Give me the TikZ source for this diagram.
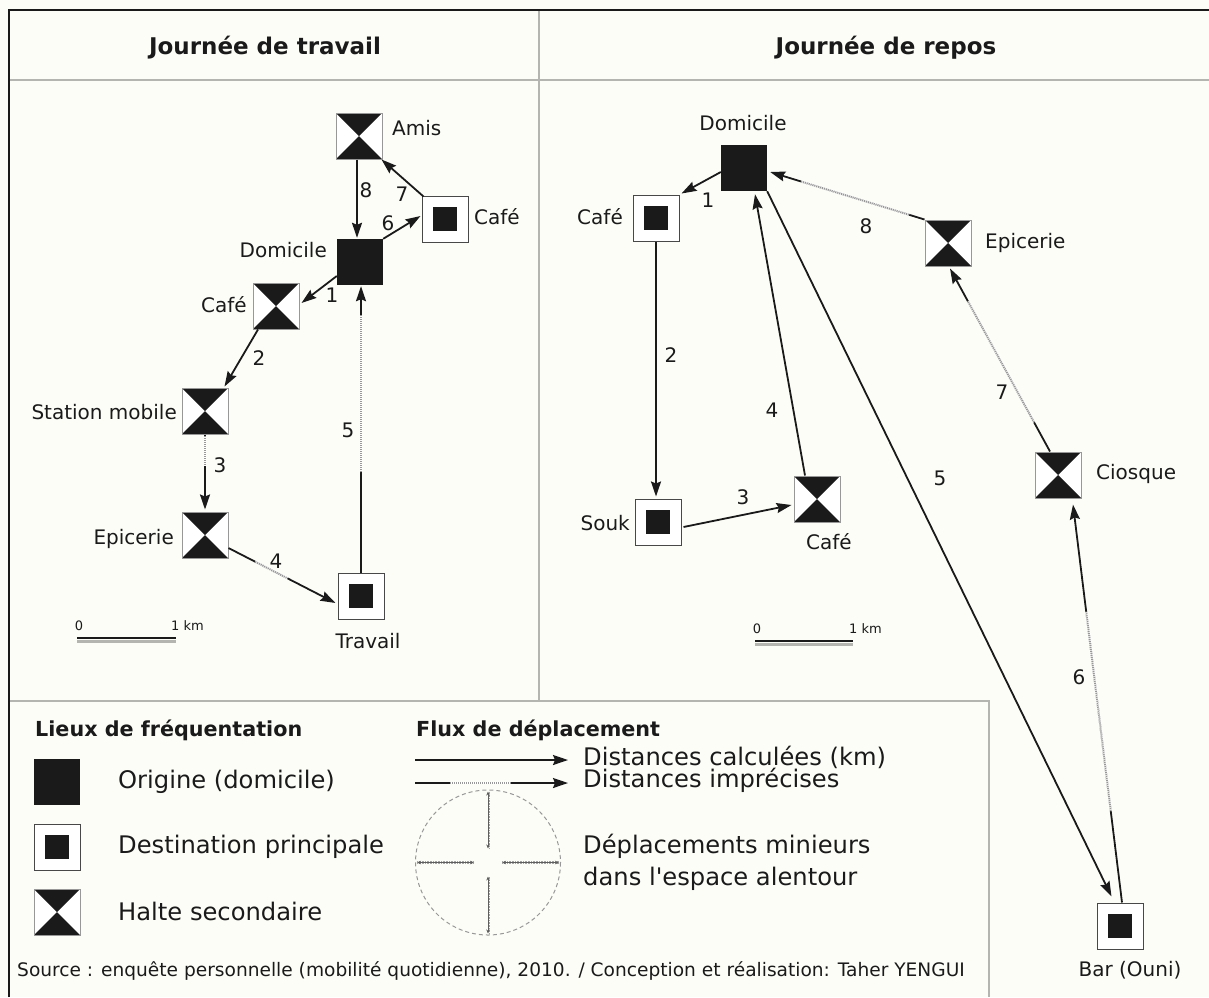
\documentclass[tikz,border=0pt]{standalone}
\usepackage{fontspec}
\setmainfont{DejaVu Sans}
\usetikzlibrary{arrows.meta,calc}
\definecolor{paper}{HTML}{FDFDF8}
\definecolor{ink}{HTML}{1A1A1A}
\definecolor{frame}{HTML}{B4B4B0}
\tikzset{
  orig/.style={rectangle, fill=ink, minimum size=46pt, inner sep=0pt},
  dest/.style={rectangle, draw=ink!80, line width=1pt, fill=white, minimum size=46pt, inner sep=0pt,
    path picture={\fill[ink] ($(path picture bounding box.center)+(-12,-12)$) rectangle ($(path picture bounding box.center)+(12,12)$);}},
  halte/.style={rectangle, draw=ink!45, line width=1pt, fill=white, minimum size=46pt, inner sep=0pt,
    path picture={\fill[ink] (path picture bounding box.north west) -- (path picture bounding box.north east) -- (path picture bounding box.center) -- cycle;
                  \fill[ink] (path picture bounding box.south west) -- (path picture bounding box.south east) -- (path picture bounding box.center) -- cycle;}},
  flow/.style={line width=1.8pt, draw=ink, -{Stealth[length=15pt,width=10pt,inset=2pt]}},
  hide/.style={line width=2.6pt, draw=white},
  impr/.style={line width=1.8pt, draw=ink!45, dash pattern=on 1.2pt off 0.8pt},
  lbl/.style={font=\fontsize{20}{22}\selectfont, text=ink, inner sep=0pt},
  num/.style={font=\fontsize{20}{22}\selectfont, text=ink, inner sep=0pt},
  ttl/.style={font=\bfseries\fontsize{23}{26}\selectfont, text=ink, inner sep=0pt},
  lgh/.style={font=\bfseries\fontsize{20.7}{24}\selectfont, text=ink, inner sep=0pt},
  lgt/.style={font=\fontsize{24.2}{27}\selectfont, text=ink, inner sep=0pt},
  src/.style={font=\fontsize{18.6}{21}\selectfont, text=ink, inner sep=0pt},
  sc/.style={font=\fontsize{13}{15}\selectfont, text=ink, inner sep=0pt},
  minorline/.style={line width=0.7pt, draw=ink!40, dash pattern=on 0.8pt off 0.8pt, double=paper, double distance=1.6pt},
  minortip/.style={draw=ink!70, line width=0.6pt, -{Stealth[length=4pt,width=3.5pt]}},
  sepline/.style={draw=frame, line width=1.5pt}
}
\newcommand\minorflow[2]{%
  \draw[minorline] (#1) -- (#2);
  \draw[minortip] ($(#1)!0.12!(#2)$) -- (#2);
  \draw[minortip] ($(#1)!0.88!(#2)$) -- (#1);
}
\begin{document}
\begin{tikzpicture}[x=1pt,y=-1pt]
\useasboundingbox (0,0) rectangle (1209,997);
\fill[paper] (0,0) rectangle (1209,997);
% frame
\draw[sepline] (9,80) -- (1209,80);
\draw[sepline] (539,10) -- (539,701);
\draw[sepline] (9,701) -- (989,701) -- (989,997);
\draw[ink, line width=1.3pt] (9,997) -- (9,10) -- (1209,10);
% titles
\node[ttl] (t1) at (265,48) {Journée de travail};
\node[ttl] (t2) at (886,48) {Journée de repos};

% ===== left panel =====
\node[orig]  (Ld) at (360,262) {};
\node[halte] (La) at (359,136) {};
\node[dest]  (Lc) at (445,219) {};
\node[halte] (Lh) at (276,306) {};
\node[halte] (Ls) at (205,411) {};
\node[halte] (Le) at (205,535) {};
\node[dest]  (Lt) at (361,596) {};
\node[lbl, anchor=east] (Ldl) at (327,250) {Domicile};
\node[lbl, anchor=west] (Lal) at (392,128) {Amis};
\node[lbl, anchor=west] (Lcl) at (474,217) {Café};
\node[lbl, anchor=east] (Lhl) at (247,305) {Café};
\node[lbl, anchor=east] (Lsl) at (177,412) {Station mobile};
\node[lbl, anchor=east] (Lel) at (174,539) {Epicerie};
\node[lbl] (Ltl) at (368,641) {Travail};

% edges left
\draw[flow] ($(Ld.west)+(0,14)$) -- ($(Lh.east)+(2,-3)$);
\draw[flow] ($(Lh.south)+(-18,0)$) -- ($(Ls.north east)+(-4,-1)$);
\draw[flow] (Ls.south) -- ($(Le.north)+(0,-2)$) coordinate[pos=0.02] (g3a) coordinate[pos=0.42] (g3b);
\draw[hide] (g3a) -- (g3b); \draw[impr] (g3a) -- (g3b);
\draw[flow] ($(Le.east)+(0,13)$) -- ($(Lt.west)+(-2,7)$) coordinate[pos=0.25] (g4a) coordinate[pos=0.55] (g4b);
\draw[hide] (g4a) -- (g4b); \draw[impr] (g4a) -- (g4b);
\draw[flow] (Lt.north) -- ($(Lt.north |- Ld.south)+(0,1)$) coordinate[pos=0.35] (g5a) coordinate[pos=0.9] (g5b);
\draw[hide] (g5a) -- (g5b); \draw[impr] (g5a) -- (g5b);
\draw[flow] (Ld.north east) -- ($(Lc.west)+(-1,-3)$);
\draw[flow] ($(Lc.north west)+(2,1)$) -- ($(La.south east)+(-1,0)$);
\draw[flow] ($(La.south)+(-2,0)$) -- ($(La.south |- Ld.north)+(-2,-1)$);
\node[num] (n1) at (332,295) {1};
\node[num] (n2) at (259,358) {2};
\node[num] (n3) at (220,465) {3};
\node[num] (n4) at (276,561) {4};
\node[num] (n5) at (348,430) {5};
\node[num] (n6) at (388,223) {6};
\node[num] (n7) at (402,194) {7};
\node[num] (n8) at (366,190) {8};
% scale left
\coordinate (sl0) at (77,638);
\coordinate (sl1) at (176,638);
\draw[ink, line width=2.6pt] (sl0) -- (sl1);
\draw[frame, line width=2.6pt] ($(sl0)+(0,3.5)$) -- ($(sl1)+(0,3.5)$);
\node[sc] (sl0t) at (79,626) {0};
\node[sc, anchor=west] (sl1t) at (171,626) {1 km};

% ===== right panel =====
\node[orig]  (Rd) at (744,168) {};
\node[dest]  (Rc) at (656,218) {};
\node[halte] (Re) at (948,243) {};
\node[halte] (Rk) at (1058,475) {};
\node[dest]  (Rb) at (1120,926) {};
\node[dest]  (Rs) at (658,522) {};
\node[halte] (Rh) at (817,499) {};
\node[lbl] (Rdl) at (743,123) {Domicile};
\node[lbl, anchor=east] (Rcl) at (623,217) {Café};
\node[lbl, anchor=west] (Rel) at (985,243) {Epicerie};
\node[lbl, anchor=west] (Rkl) at (1096,474) {Ciosque};
\node[lbl] (Rbl) at (1130,970) {Bar (Ouni)};
\node[lbl, anchor=east] (Rsl) at (630,523) {Souk};
\node[lbl] (Rhl) at (829,542) {Café};

% edges right
\draw[flow] ($(Rd.west)+(0,4)$) -- ($(Rc.north east)+(2,-1)$);
\draw[flow] (Rc.south) -- ($(Rc.south |- Rs.north)+(0,-2)$);
\draw[flow] ($(Rs.east)+(2,5)$) -- ($(Rh.west)+(-2,6)$);
\draw[flow] ($(Rh.north)+(-12,0)$) -- ($(Rd.south)+(11,3)$);
\draw[flow] (Rd.south east) -- ($(Rb.north west)+(15,-6)$);
\draw[flow] ($(Rb.north)+(2,0)$) -- ($(Rk.south)+(15,6)$) coordinate[pos=0.23] (r6a) coordinate[pos=0.73] (r6b);
\draw[hide] (r6a) -- (r6b); \draw[impr] (r6a) -- (r6b);
\draw[flow] ($(Rk.north)+(-8,0)$) -- ($(Re.south)+(2,2)$) coordinate[pos=0.16] (r7a) coordinate[pos=0.82] (r7b);
\draw[hide] (r7a) -- (r7b); \draw[impr] (r7a) -- (r7b);
\draw[flow] (Re.north west) -- ($(Rd.east)+(3,4)$) coordinate[pos=0.1] (r8a) coordinate[pos=0.8] (r8b);
\draw[hide] (r8a) -- (r8b); \draw[impr] (r8a) -- (r8b);
\node[num] (m1) at (708,200) {1};
\node[num] (m2) at (671,355) {2};
\node[num] (m3) at (743,497) {3};
\node[num] (m4) at (772,410) {4};
\node[num] (m5) at (940,478) {5};
\node[num] (m6) at (1079,677) {6};
\node[num] (m7) at (1002,392) {7};
\node[num] (m8) at (866,226) {8};
% scale right
\coordinate (sr0) at (755,641);
\coordinate (sr1) at (853,641);
\draw[ink, line width=2.6pt] (sr0) -- (sr1);
\draw[frame, line width=2.6pt] ($(sr0)+(0,3.5)$) -- ($(sr1)+(0,3.5)$);
\node[sc] (sr0t) at (757,629) {0};
\node[sc, anchor=west] (sr1t) at (849,629) {1 km};

% ===== legend =====
\node[lgh, anchor=west] (lh1) at (35,730) {Lieux de fréquentation};
\node[orig]  (lo) at (57,782) {};
\node[dest]  (ld) at (57,847) {};
\node[halte] (lha) at (57,912) {};
\node[lgt, anchor=west] (lot) at (118,782) {Origine (domicile)};
\node[lgt, anchor=west] (ldt) at (118,847) {Destination principale};
\node[lgt, anchor=west] (lhat) at (118,911) {Halte secondaire};

\node[lgh, anchor=west] (lh2) at (416,730) {Flux de déplacement};
\coordinate (a1s) at (415,760);
\coordinate (a1e) at (568,760);
\coordinate (a2s) at (415,783);
\coordinate (a2e) at (568,783);
\draw[flow] (a1s) -- (a1e);
\draw[flow] (a2s) -- (a2e);
\coordinate (a2g1) at (450,783);
\coordinate (a2g2) at (511,783);
\draw[hide] (a2g1) -- (a2g2); \draw[impr] (a2g1) -- (a2g2);
\node[lgt, anchor=west] (lf1) at (583,757) {Distances calculées (km)};
\node[lgt, anchor=west] (lf2) at (583,780) {Distances imprécises};
\coordinate (cc) at (488,862.5);
\draw[ink!45, line width=1pt, dash pattern=on 4pt off 3pt] (cc) circle (72.5);
\coordinate (mt1) at ($(cc)+(0,-71)$);  \coordinate (mt2) at ($(cc)+(0,-14)$);
\coordinate (mb1) at ($(cc)+(0,71)$);   \coordinate (mb2) at ($(cc)+(0,14)$);
\coordinate (ml1) at ($(cc)+(-71,0)$);  \coordinate (ml2) at ($(cc)+(-14,0)$);
\coordinate (mr1) at ($(cc)+(71,0)$);   \coordinate (mr2) at ($(cc)+(14,0)$);
\minorflow{mt1}{mt2}
\minorflow{mb1}{mb2}
\minorflow{ml1}{ml2}
\minorflow{mr1}{mr2}
\node[lgt, anchor=west] (lm1) at (583,846) {Déplacements minieurs};
\node[lgt, anchor=west] (lm2) at (583,879) {dans l{\addfontfeature{Ligatures=TeXOff}'}espace alentour};

\node[src, anchor=west] (srcn) at (17,971) {Source : enquête personnelle (mobilité quotidienne), 2010. / Conception et réalisation: Taher YENGUI};
\end{tikzpicture}
\end{document}
